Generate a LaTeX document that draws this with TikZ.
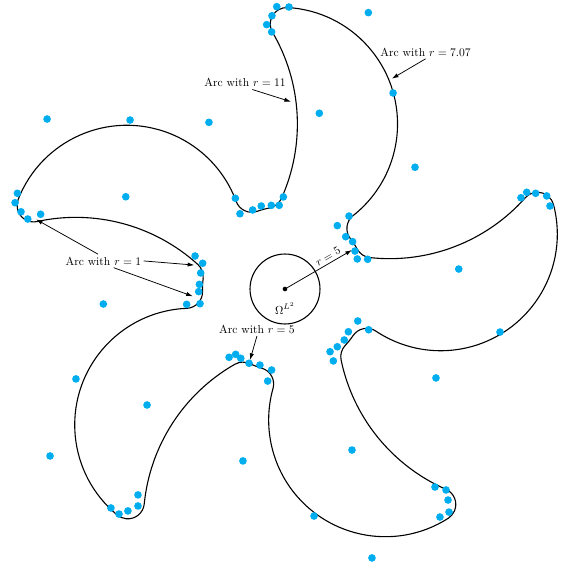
\documentclass[tikz,border=0pt]{standalone}
\usepackage{amsmath,amssymb}
\usepackage{tikz}
\usetikzlibrary{arrows.meta}
\definecolor{ptblue}{HTML}{00AEEF}
\tikzset{
  bnd/.style = {draw=black, line width=0.95pt, line join=round, line cap=round},
  ptr/.style = {-{Latex[length=2mm,width=1.3mm]}, line width=0.65pt},
  lbl/.style = {inner sep=2pt},
  ctrdot/.style = {circle, fill=black, inner sep=0pt, minimum size=4pt},
}

\begin{document}
\begin{tikzpicture}[x=5mm,y=5mm]
  \useasboundingbox (-17.273,-16.970) rectangle (16.667,17.515);
  % boundary: five blades, fillets r=1, junction arcs on r=5
  \foreach \a in {0,72,...,288}{
    \draw[bnd, rotate=\a] (100.875:5)
      arc[start angle=-79.125, end angle=-24.25, radius=1]
      arc[start angle=-24.25, end angle=30.33, radius=11]
      arc[start angle=210.33, end angle=86.62, radius=1]
      arc[start angle=86.62, end angle=-51.71, radius=7.07]
      arc[start angle=128.29, end angle=217.66, radius=1]
      arc[start angle=37.66, end angle=28.875, radius=5];
  }
  % inner disc
  \node[ctrdot] (ctr) at (0,0) {};
  \draw[bnd] (0,0) circle (2.12);
  \node[lbl] (omg) at (0,-1.17) {$\Omega^{L^2}$};
  \coordinate (rfive) at (4.06,2.36);
  \draw[ptr] (ctr) -- (rfive) node[pos=0.68, sloped, above, lbl] (rlbl) {$r=5$};
  % labels
  \node[lbl] (lbl707) at (8.52,14.36) {Arc with $r=7.07$};
  \node[lbl] (lbl11) at (-2.42,12.50) {Arc with $r=11$};
  \node[lbl] (lbl1) at (-11.01,1.70) {Arc with $r=1$};
  \node[lbl] (lbl5) at (-1.70,-2.44) {Arc with $r=5$};
  \coordinate (c707) at (6.48,12.75);
  \coordinate (c11) at (0.36,11.35);
  \coordinate (c1a) at (-15.09,4.22);
  \coordinate (c1b) at (-5.50,1.45);
  \coordinate (c1c) at (-5.59,-0.44);
  \coordinate (c5) at (-2.12,-4.30);
  \draw[ptr] (lbl707.south) -- (c707);
  \draw[ptr] (lbl11.-43) -- (c11);
  \draw[ptr] (lbl1.128) -- (c1a);
  \draw[ptr] (lbl1.east) -- (c1b);
  \draw[ptr] (lbl1.-33) -- (c1c);
  \draw[ptr] (lbl5.south) -- (c5);
  % sample points on the boundary
  \foreach \x/\y in {-0.50/17.11, 0.24/17.09, -0.79/16.56, -1.11/16.02, -0.81/15.58,
      6.55/11.88, 3.88/4.42, 3.17/3.84, 3.68/3.17, 4.10/2.87, 4.24/2.30, 4.38/1.82, 5.01/1.80,
      -3.01/5.50, -2.73/4.56, -1.96/4.79, -1.44/5.03, -0.83/5.07, -0.35/5.07, -0.10/5.58,
      -9.39/10.24, -16.22/5.80, -16.36/5.23, -16.00/4.68, -15.59/4.24, -14.81/4.53,
      -5.45/2.00, -4.99/1.56, -5.11/0.97, -5.19/0.28, -5.23/-0.16, -5.96/-0.93, -5.15/-0.89,
      -12.67/-5.45, -8.91/-12.48, -10.55/-13.27, -10.06/-13.64, -9.52/-13.45, -8.91/-13.15,
      -3.39/-4.14, -2.99/-3.96, -2.68/-4.20, -2.18/-4.50, -1.52/-4.61, -0.81/-4.91, -1.05/-5.58,
      1.76/-13.76, 9.09/-12.00, 9.76/-12.18, 9.88/-12.79, 9.94/-13.52, 9.39/-13.82,
      4.41/-1.94, 5.07/-2.47, 3.84/-2.59, 3.59/-3.09, 3.17/-3.50, 2.73/-3.80, 2.93/-4.36,
      13.03/-2.61, 14.30/5.53, 14.65/5.86, 15.19/5.80, 15.86/5.64, 16.06/5.03}
    \fill[ptblue] (\x,\y) circle (3.3pt);
  % sample points in the square
  \foreach \x/\y in {5.05/16.75, 2.08/10.65, 7.88/7.38, -4.61/10.10, -14.42/10.30,
      -9.65/5.59, -11.01/-0.91, -8.36/-7.03, -14.24/-10.12, -2.55/-10.42,
      4.06/-9.76, 5.27/-16.30, 9.15/-5.39, 10.53/1.21}
    \fill[ptblue] (\x,\y) circle (3.3pt);
\end{tikzpicture}
\end{document}
